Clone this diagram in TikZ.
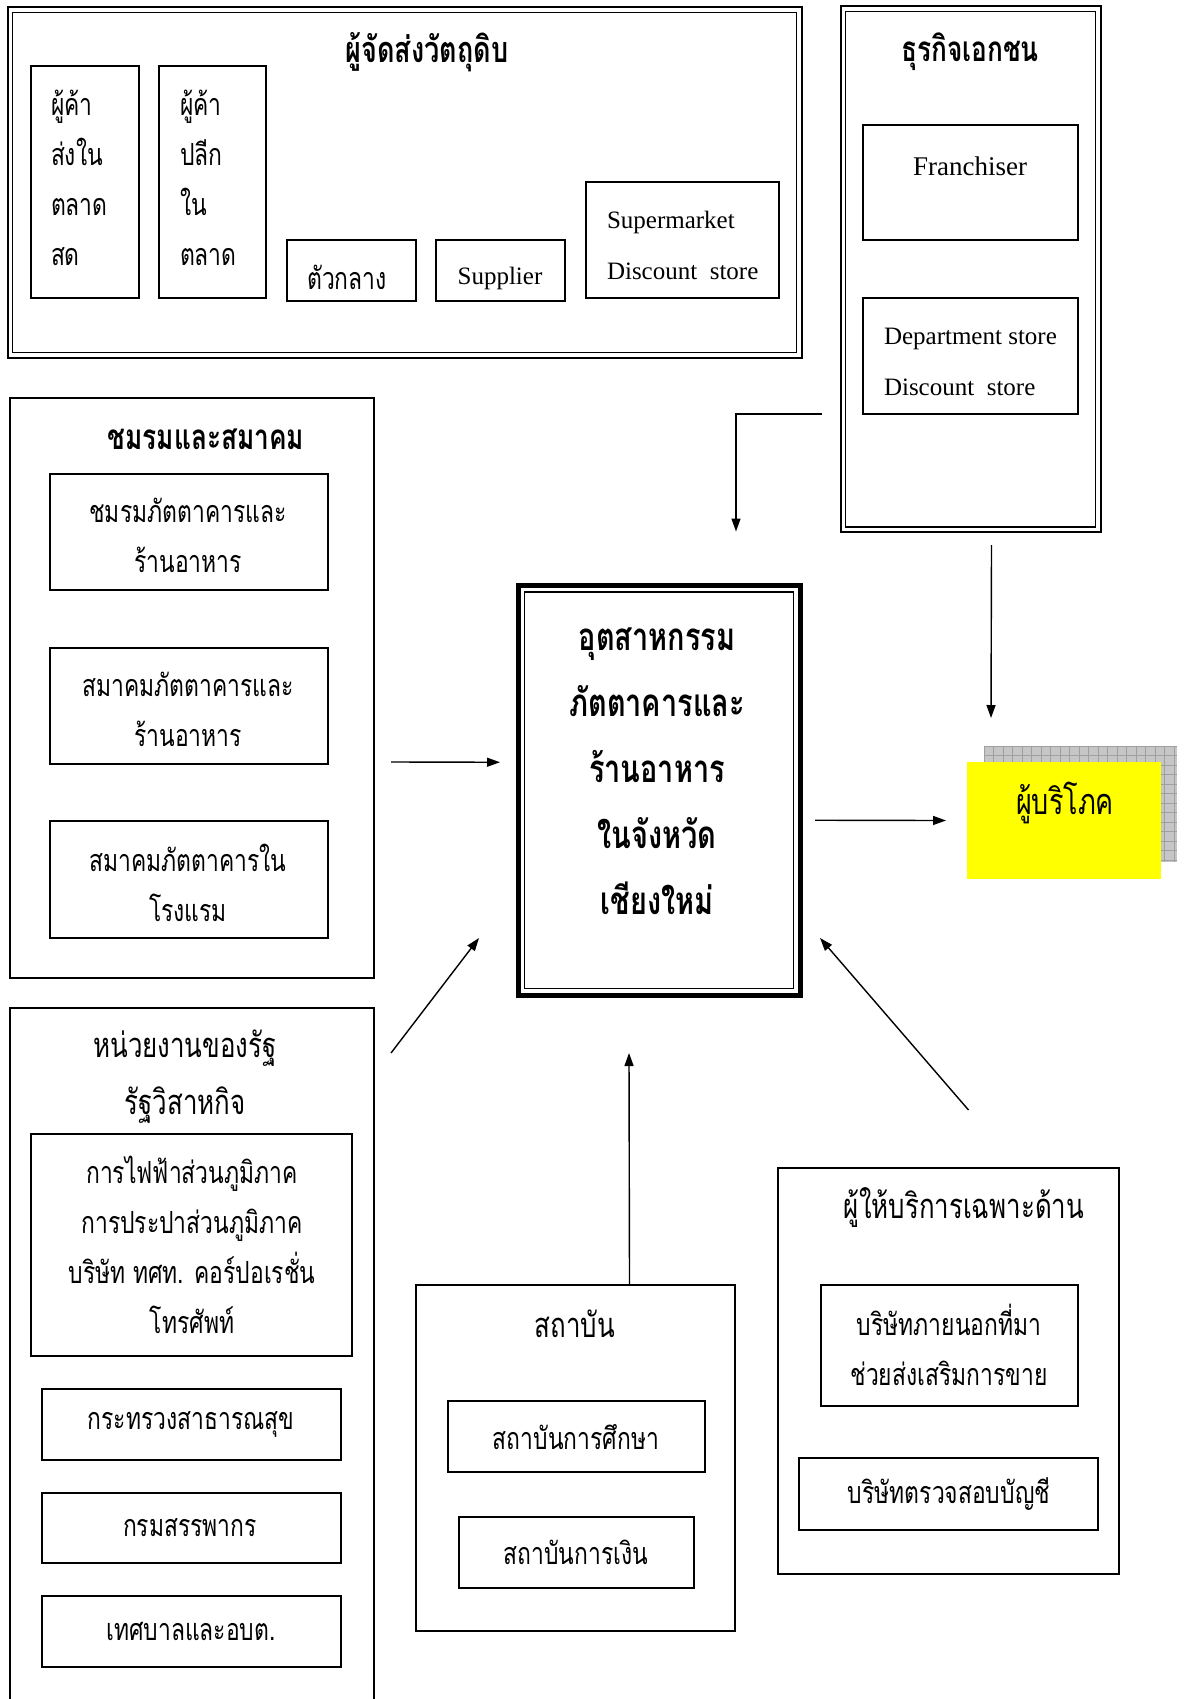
\documentclass[tikz,border=0pt]{standalone}
\usepackage{fontspec}
\setmainfont{Liberation Serif}
\newfontfamily\thai[Script=Thai,FakeStretch=0.75]{Loma}
\usetikzlibrary{arrows.meta,calc}
\definecolor{consyellow}{RGB}{255,255,0}

% \rbox[style]{name}{x1}{y1}{x2}{y2}: empty rectangle node between two corners
\newcommand\rbox[6][]{%
  \node[box,#1,minimum width={#5-#3},minimum height={#6-#4}]
    (#2) at ({(#3+#5)/2},{(#4+#6)/2}) {};}

\begin{document}
\begin{tikzpicture}[x=1pt,y=-1pt,
  box/.style={draw,line width=1.4pt,inner sep=0pt,outer sep=0pt},
  th/.style={inner sep=0pt,outer sep=0pt,align=center,font=\thai\fontsize{30.5}{50}\selectfont},
  thl/.style={th,align=left,anchor=west},
  thhead/.style={inner sep=0pt,outer sep=0pt,align=center,font=\thai\fontsize{34.5}{57}\selectfont},
  thbold/.style={inner sep=0pt,outer sep=0pt,align=center,font=\thai\bfseries\fontsize{35}{66}\selectfont},
  en/.style={inner sep=0pt,outer sep=0pt,align=left,font=\fontsize{25}{51}\selectfont},
  arr/.style={line width=1.4pt,-{Triangle[length=13pt,width=9pt]}},
]
\useasboundingbox (0,0) rectangle (1185,1699);
\clip (0,0) rectangle (1185,1699);
\fill[white] (0,0) rectangle (1185,1699);

% ---------- raw material suppliers ----------
\rbox[line width=2pt]{supply}{7.5}{7.5}{801.5}{357.5}
\draw[line width=1.2pt] ($(supply.north west)+(5,5)$) rectangle ($(supply.south east)+(-5,-5)$);
\node[thbold,font=\thai\bfseries\fontsize{36}{66}\selectfont] (supplyT) at (427,52) {ผู้จัดส่งวัตถุดิบ};
\rbox{wholesale}{31}{66}{139}{298}
\node[thl] (wholesaleT) at (51,178) {ผู้ค้า\\ส่งใน\\ตลาด\\สด};
\rbox{retail}{159}{66}{266}{298}
\node[thl] (retailT) at (180,178) {ผู้ค้า\\ปลีก\\ใน\\ตลาด};
\rbox{middle}{287}{240}{416}{301}
\node[th] (middleT) at (347,277) {ตัวกลาง};
\rbox{suppl}{436}{240}{565}{301}
\node[en] (supplT) at (500,278) {Supplier};
\rbox{superm}{586}{182}{779}{298}
\node[en,anchor=west] (supermT) at (607,245) {Supermarket\\Discount\ \ store};

% ---------- private business ----------
\rbox[line width=2pt]{priv}{840.5}{6.5}{1100.5}{532}
\draw[line width=1.2pt] ($(priv.north west)+(5,5)$) rectangle ($(priv.south east)+(-5,-5)$);
\node[thbold] (privT) at (970,52) {ธุรกิจเอกชน};
\rbox{franch}{863}{125}{1078}{240}
\node[en,font=\fontsize{27}{51}\selectfont] (franchT) at (970,166) {Franchiser};
\rbox{dept}{863}{298}{1078}{414}
\node[en,anchor=west] (deptT) at (884,362) {Department store\\Discount\ \ store};

% ---------- restaurant industry ----------
\rbox[line width=5pt]{center}{518}{585.5}{800}{995}
\draw[line width=1.8pt] ($(center.north west)+(6.5,6.5)$) rectangle ($(center.south east)+(-6.5,-6.5)$);
\node[thbold,font=\thai\bfseries\fontsize{38.5}{66}\selectfont] (centerT) at (657,771)
  {อุตสาหกรรม\\ภัตตาคารและ\\ร้านอาหาร\\ในจังหวัด\\เชียงใหม่};

% ---------- consumers ----------
\fill[gray!45] (984,746) rectangle (1177,862);
\begin{scope}
  \clip (984,746) rectangle (1177,862);
  \foreach \gx in {0,9.5,...,200} \draw[gray!75,line width=0.7pt] (984+\gx,746) -- (984+\gx,862);
  \foreach \gy in {0,9.5,...,120} \draw[gray!75,line width=0.7pt] (984,746+\gy) -- (1177,746+\gy);
\end{scope}
\node[fill=consyellow,inner sep=0pt,outer sep=0pt,minimum width=194,minimum height=117] (cons) at (1064,820.5) {};
\node[thhead,font=\thai\fontsize{36}{57}\selectfont] (consT) at (1065,803) {ผู้บริโภค};

% ---------- clubs and associations ----------
\rbox{club}{10}{398}{374}{978}
\node[thbold] (clubT) at (206,439) {ชมรมและสมาคม};
\rbox{club1}{50}{474}{328}{590}
\node[th] (club1T) at (188,535) {ชมรมภัตตาคารและ\\ร้านอาหาร};
\rbox{club2}{50}{648}{328}{764}
\node[th] (club2T) at (188,709) {สมาคมภัตตาคารและ\\ร้านอาหาร};
\rbox{club3}{50}{821}{328}{938}
\node[th] (club3T) at (188,883) {สมาคมภัตตาคารใน\\โรงแรม};

% ---------- government ----------
\rbox{gov}{10}{1008}{374}{1720}
\node[thhead] (govT) at (185,1077) {หน่วยงานของรัฐ\\รัฐวิสาหกิจ};
\rbox{gov1}{31}{1134}{352}{1356}
\node[th] (gov1T) at (192,1245) {การไฟฟ้าส่วนภูมิภาค\\การประปาส่วนภูมิภาค\\บริษัท ทศท. คอร์ปอเรชั่น\\โทรศัพท์};
\rbox{gov2}{42}{1389}{341}{1460}
\node[th] (gov2T) at (191,1424) {กระทรวงสาธารณสุข};
\rbox{gov3}{42}{1493}{341}{1563}
\node[th] (gov3T) at (190,1528) {กรมสรรพากร};
\rbox{gov4}{42}{1596}{341}{1667}
\node[th] (gov4T) at (191,1631) {เทศบาลและอบต.};

% ---------- institutions ----------
\rbox{inst}{416}{1285}{735}{1631}
\node[thhead] (instT) at (575,1324) {สถาบัน};
\rbox{inst1}{448}{1401}{705}{1472}
\node[th] (inst1T) at (576,1437) {สถาบันการศึกษา};
\rbox{inst2}{459}{1517}{694}{1588}
\node[th] (inst2T) at (576,1552) {สถาบันการเงิน};

% ---------- specialised service providers ----------
\rbox{spec}{778}{1168}{1119}{1574}
\node[thhead] (specT) at (964,1207) {ผู้ให้บริการเฉพาะด้าน};
\rbox{spec1}{821}{1285}{1078}{1406}
\node[th] (spec1T) at (949,1345) {บริษัทภายนอกที่มา\\ช่วยส่งเสริมการขาย};
\rbox{spec2}{799}{1458}{1098}{1530}
\node[th] (spec2T) at (949,1494) {บริษัทตรวจสอบบัญชี};

% ---------- connectors ----------
\draw[arr] ($(priv.west |- dept.south)+(-19,0)$) -| ($(center.north)+(77,-54)$);
\draw[arr] ($(priv.south)+(21,13)$) -- ($(cons.north)+(-73,-44)$);
\draw[arr] ($(center.east)+(15,30)$) -- ($(cons.west)+(-21,0)$);
\draw[arr] ($(club.east)+(17,74)$) -- ($(center.west)+(-18,-28)$);
\draw[arr] ($(gov.north east)+(17,45)$) -- ($(center.south west)+(-39,-57)$);
\draw[arr] ($(inst.north)+(54,0)$) -- ($(center.south)+(-30,58)$);
\draw[arr] ($(spec.north)+(20,-58)$) -- ($(center.south east)+(20,-57)$);
\end{tikzpicture}
\end{document}
